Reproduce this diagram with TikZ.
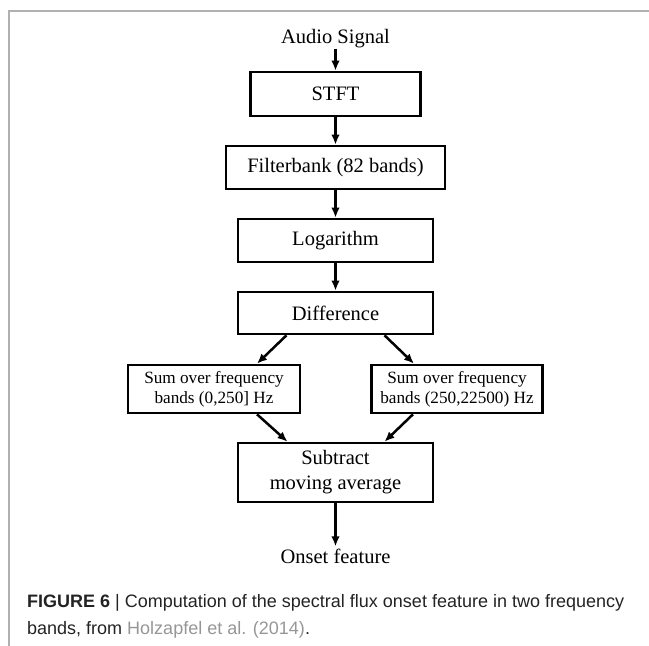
\documentclass[tikz,border=0pt]{standalone}
\usepackage{fontspec}
\setmainfont{Liberation Serif}
\newfontfamily\capfont{Liberation Sans}
\usetikzlibrary{arrows.meta}
\definecolor{framegray}{RGB}{176,176,176}
\definecolor{citegray}{RGB}{150,150,150}
\definecolor{captext}{RGB}{35,35,35}

\begin{document}
\begin{tikzpicture}[x=1pt, y=-1pt,
    stage/.style={draw, line width=2.6pt, inner sep=0pt, align=center, font=\fontsize{20.5}{25}\selectfont},
    bandbox/.style={stage, font=\fontsize{17.2}{20}\selectfont},
    endtext/.style={inner sep=0pt, font=\fontsize{20.5}{25}\selectfont},
    captxt/.style={inner sep=0pt, anchor=base west, text=captext, font=\capfont\fontsize{18}{20}\selectfont},
    flow/.style={line width=2.5pt, -{Latex[length=10pt,width=8.5pt]}}]
    \useasboundingbox (0,0) rectangle (649,646);

    % Page frame (left and top edge)
    \draw[framegray, line width=1.2pt] (9,646) |- (649,11);

    % Input
    \node[endtext, anchor=base] (audio) at (335.5,43) {Audio Signal};

    % Processing chain
    \node[stage, minimum width=170, minimum height=44] (stft) at (335.5,94) {STFT};
    \node[stage, minimum width=219, minimum height=43] (filter) at (335.5,167.5) {Filterbank (82 bands)};
    \node[stage, minimum width=195, minimum height=43] (logar) at (335.5,240.5) {Logarithm};
    \node[stage, minimum width=195, minimum height=42] (diff) at (335.5,313) {Difference};

    % Two frequency bands
    \node[bandbox, minimum width=172, minimum height=48] (lowband) at (214,389) {Sum over frequency\\bands (0,250] Hz};
    \node[bandbox, minimum width=171, minimum height=48] (highband) at (457,389) {Sum over frequency\\bands (250,22500) Hz};

    % Merge and output
    \node[stage, minimum width=195, minimum height=59] (sub) at (335.5,472.5) {Subtract\\moving average};
    \node[endtext, anchor=base] (onset) at (335.5,563) {Onset feature};

    % Arrows
    \draw[flow, shorten <=1pt] (audio.south) -- (stft.north);
    \draw[flow] (stft.south) -- (filter.north);
    \draw[flow] (filter.south) -- (logar.north);
    \draw[flow] (logar.south) -- (diff.north);
    \draw[flow] ([xshift=-49]diff.south) -- ([xshift=43]lowband.north);
    \draw[flow] ([xshift=49]diff.south) -- ([xshift=-43]highband.north);
    \draw[flow] ([xshift=43]lowband.south) -- ([xshift=-48]sub.north);
    \draw[flow] ([xshift=-44]highband.south) -- ([xshift=49]sub.north);
    \draw[flow, shorten >=2pt] (sub.south) -- (onset.north);

    % Caption
    \node[captxt] (capa) at (27,607) {\textbf{FIGURE 6} | Computation of the spectral flux onset feature in two frequency};
    \node[captxt] (capb) at (27,634) {bands, from \textcolor{citegray}{Holzapfel et al. (2014)}.};
\end{tikzpicture}
\end{document}
